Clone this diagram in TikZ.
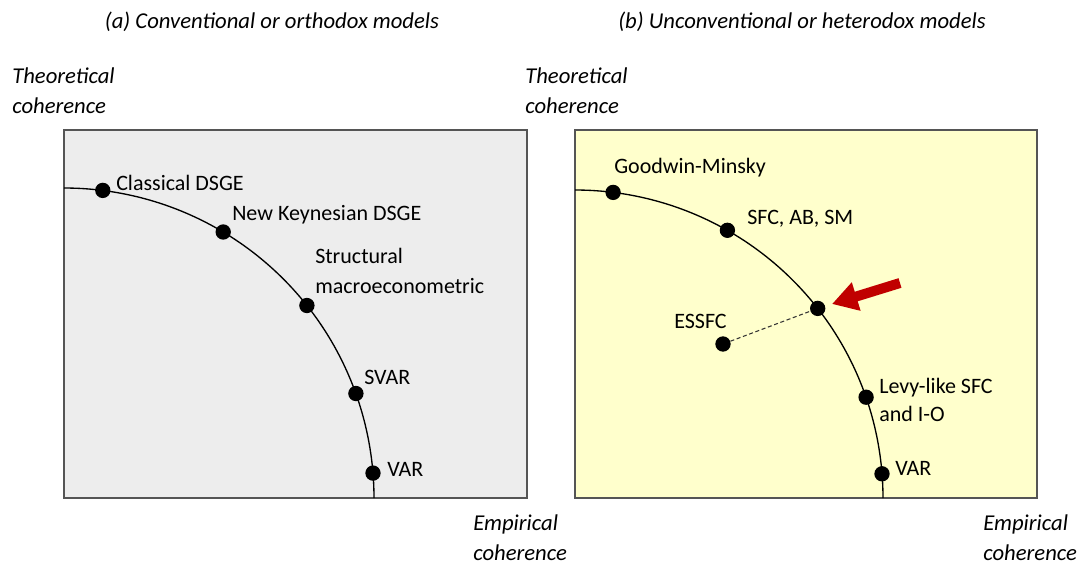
\documentclass[tikz,border=0pt]{standalone}
\usepackage{fontspec}
\setmainfont{Carlito}
\usetikzlibrary{arrows.meta}
\definecolor{boxgray}{HTML}{EDEDED}
\definecolor{boxyellow}{HTML}{FFFFCC}
\definecolor{edgegray}{HTML}{555555}
\definecolor{arrowred}{HTML}{C00000}
\tikzset{
  px/.style={x=0.75pt,y=-0.75pt},
  panel/.style={draw=edgegray,line width=1.1pt},
  dot/.style={circle,fill=black,inner sep=0pt,minimum size=11.5pt},
  lbl/.style={anchor=base west,inner sep=0pt,font=\fontsize{16.5}{22}\selectfont},
  axlbl/.style={anchor=base west,inner sep=0pt,align=left,font=\fontsize{17}{22.5}\selectfont\itshape},
  ttl/.style={anchor=base,inner sep=0pt,font=\fontsize{17}{22}\selectfont\itshape},
  frontier/.style={line width=1pt},
  link/.style={line width=0.8pt,dash pattern=on 3pt off 2pt,draw=black!80},
  pointer/.style={draw=arrowred,line width=7.5pt,-{Triangle[width=21pt,length=19pt]}}
}
\begin{document}
\begin{tikzpicture}[px]
\useasboundingbox (0,0) rectangle (1081,564);
% panels
\draw[panel,fill=boxgray] (64,130) rectangle (527,498);
\draw[panel,fill=boxyellow] (575,130) rectangle (1037,498);
% titles
\node[ttl] (ta) at (272,28) {(a) Conventional or orthodox models};
\node[ttl] (tb) at (802,28) {(b) Unconventional or heterodox models};
% axis labels
\node[axlbl] (tha) at (12,83) {Theoretical};
\node[axlbl] (tha2) at (12,113) {coherence};
\node[axlbl] (thb) at (525,83) {Theoretical};
\node[axlbl] (thb2) at (525,113) {coherence};
\node[axlbl] (ema) at (473,530) {Empirical};
\node[axlbl] (ema2) at (473,560) {coherence};
\node[axlbl] (emb) at (983,530) {Empirical};
\node[axlbl] (emb2) at (983,560) {coherence};
% frontiers
\draw[frontier] plot[domain=0:90,samples=90] ({64+310*cos(\x)},{498-310*sin(\x)});
\draw[frontier] plot[domain=0:90,samples=90] ({575+308*cos(\x)},{498-308*sin(\x)});
% left dots
\node[dot] (cd) at (102.8,190.4) {};
\node[dot] (nk) at (223.2,232.0) {};
\node[dot] (sm) at (306.9,305.5) {};
\node[dot] (sv) at (355.9,393.5) {};
\node[dot] (va) at (373.0,473.1) {};
\node[lbl] (cdl) at (116,190) {Classical DSGE};
\node[lbl] (nkl) at (232,220) {New Keynesian DSGE};
\node[lbl] (sml) at (315,263) {Structural};
\node[lbl] (sml2) at (315,293) {macroeconometric};
\node[lbl] (svl) at (364,384) {SVAR};
\node[lbl] (val) at (387,476) {VAR};
% right dots
\node[dot] (gm) at (613.1,192.4) {};
\node[dot] (sf) at (727.4,230.3) {};
\node[dot] (tg) at (817.7,308.4) {};
\node[dot] (es) at (723,344) {};
\node[dot] (lv) at (866.1,397.2) {};
\node[dot] (vb) at (882.0,473.8) {};
\node[lbl] (gml) at (614,173) {Goodwin-Minsky};
\node[lbl] (sfl) at (747,224) {SFC, AB, SM};
\node[lbl] (esl) at (674,328) {ESSFC};
\node[lbl] (lvl) at (879,393) {Levy-like SFC};
\node[lbl] (lvl2) at (879,421) {and I-O};
\node[lbl] (vbl) at (895,475) {VAR};
% dashed link
\draw[link] (es) -- (tg);
% red arrow
\coordinate (at) at (900,283);
\coordinate (ah) at (832,304);
\draw[pointer] (at) -- (ah);
\end{tikzpicture}
\end{document}
